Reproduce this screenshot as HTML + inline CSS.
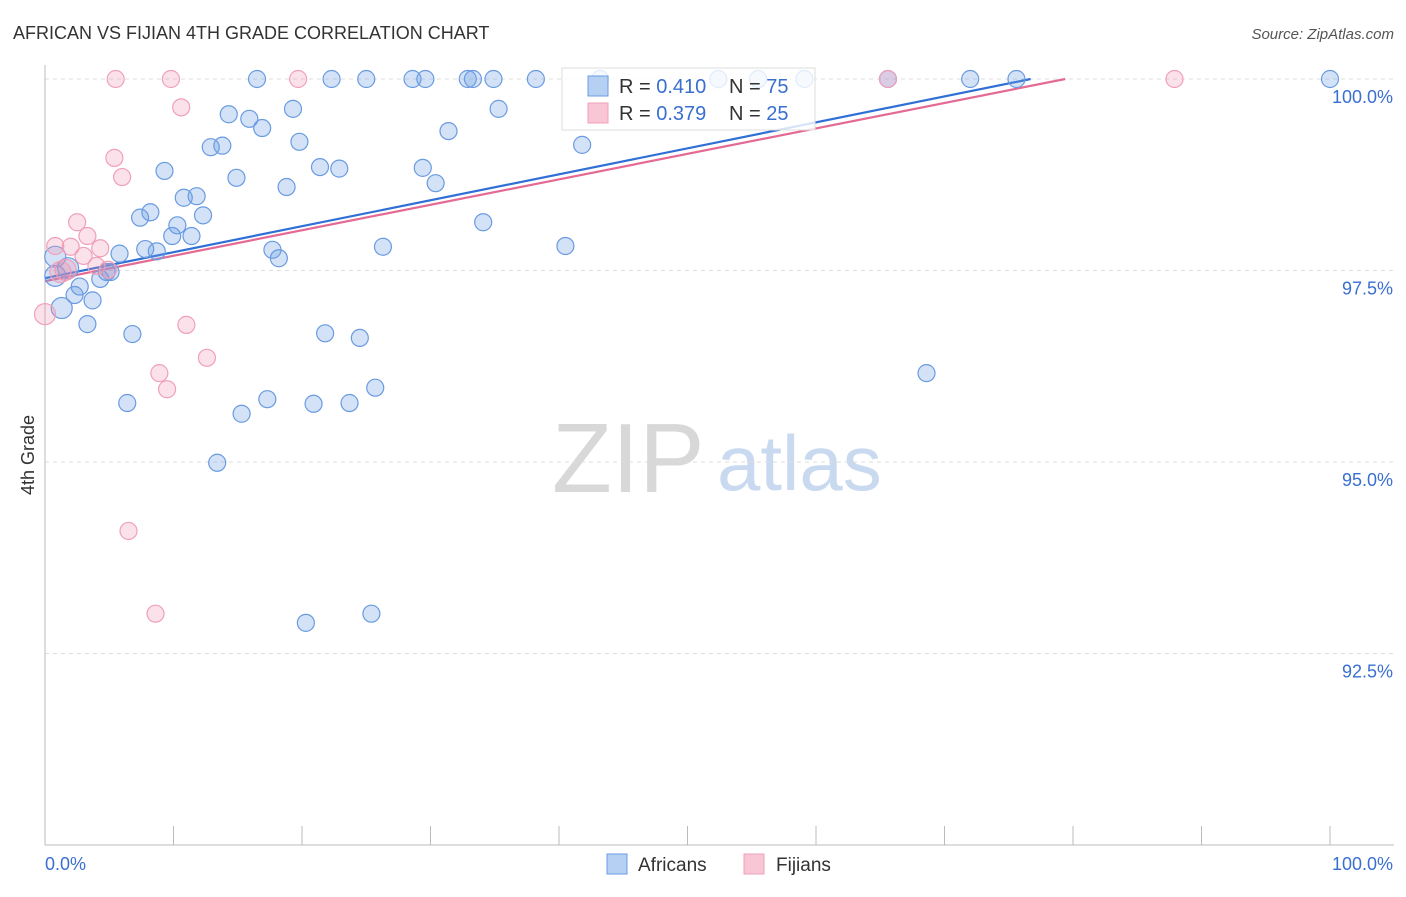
<!DOCTYPE html>
<html><head><meta charset="utf-8"><style>
body{margin:0;background:#fff;font-family:"Liberation Sans",sans-serif;}
svg text{font-family:"Liberation Sans",sans-serif;}
</style></head><body>
<svg id="chart" width="1406" height="892">
<text x="13" y="39" font-size="18" fill="#333">AFRICAN VS FIJIAN 4TH GRADE CORRELATION CHART</text>
<text x="1394" y="39" font-size="15" fill="#555" text-anchor="end" font-style="italic">Source: ZipAtlas.com</text>
<g>
<text x="552" y="492" font-size="98" fill="#d8d8d8" font-family="Liberation Serif,serif">ZIP</text>
<text x="717" y="490" font-size="78" fill="#c9daf0">atlas</text>
</g>
<g id="grid"></g>
<g id="axes"></g>
<g id="lines"></g>
<g id="pts"></g>
<g>
<rect x="562" y="68" width="253" height="62" fill="#fff" fill-opacity="0.8" stroke="#ddd"/>
<rect x="588" y="76" width="20" height="20" fill="#b5d0f3" stroke="#6a9be0"/>
<rect x="588" y="103" width="20" height="20" fill="#f8c6d4" stroke="#f0a0b8"/>
<text x="619" y="93" font-size="20" fill="#333">R = <tspan fill="#3a6fd0">0.410</tspan></text>
<text x="729" y="93" font-size="20" fill="#333">N = <tspan fill="#3a6fd0">75</tspan></text>
<text x="619" y="120" font-size="20" fill="#333">R = <tspan fill="#3a6fd0">0.379</tspan></text>
<text x="729" y="120" font-size="20" fill="#333">N = <tspan fill="#3a6fd0">25</tspan></text>
</g>
<g>
<rect x="607" y="854" width="20" height="20" fill="#b5d0f3" stroke="#6a9be0"/>
<text x="638" y="871" font-size="19" fill="#333">Africans</text>
<rect x="744" y="854" width="20" height="20" fill="#f8c6d4" stroke="#f0a0b8"/>
<text x="776" y="871" font-size="19" fill="#333">Fijians</text>
</g>
<text transform="translate(34,455) rotate(-90)" font-size="18" fill="#333" text-anchor="middle">4th Grade</text>
</svg>
<script>
const blueX=[16.5,22.3,25.0,28.6,29.6,32.9,33.3,34.9,38.2,43.2,52.4,55.5,59.1,65.6,72.0,75.6,100,14.3,15.9,16.9,19.3,35.3,31.4,12.9,13.8,19.8,41.8,9.3,14.9,18.8,21.4,22.9,29.4,30.4,10.8,11.8,8.2,7.4,12.3,10.3,9.9,11.4,34.1,5.8,7.8,8.7,17.7,18.2,26.3,40.5,0.8,1.8,5.1,4.3,4.8,0.8,2.7,2.3,3.7,1.3,3.3,6.8,21.8,24.5,68.6,25.7,6.4,17.3,15.3,20.9,23.7,13.4,20.3,25.4];
const blueY=[100,100,100,100,100,100,100,100,100,100,100,100,100,100,100,100,100,99.54,99.48,99.36,99.61,99.61,99.32,99.11,99.13,99.18,99.14,98.80,98.71,98.59,98.85,98.83,98.84,98.64,98.45,98.47,98.26,98.19,98.22,98.09,97.95,97.95,98.13,97.72,97.78,97.75,97.77,97.66,97.81,97.82,97.68,97.53,97.48,97.39,97.48,97.43,97.29,97.18,97.11,97.01,96.80,96.67,96.68,96.62,96.16,95.97,95.77,95.82,95.63,95.76,95.77,94.99,92.90,93.02];
const pinkX=[5.5,9.8,19.7,65.6,87.9,10.6,5.4,6.0,2.5,3.3,0.8,2.0,4.3,3.0,4.0,1.6,4.9,0,11.0,12.6,8.9,9.5,6.5,8.6,1.2];
const pinkY=[100,100,100,100,100,99.63,98.97,98.72,98.13,97.95,97.82,97.81,97.79,97.69,97.56,97.51,97.51,96.93,96.79,96.36,96.16,95.95,94.10,93.02,97.48];
const blueTrend=[97.40,100,76.7];
const pinkTrend=[97.36,100,79.4];
const yTicks=[100,97.5,95,92.5];
const xTicks=[0,10,20,30,40,50,60,70,80,90,100];
const X=v=>45+v*12.85, Y=v=>79+(100-v)*76.6;
const NS='http://www.w3.org/2000/svg';
function mk(p,t,a){const e=document.createElementNS(NS,t);for(const k in a)e.setAttribute(k,a[k]);document.getElementById(p).appendChild(e);return e;}
yTicks.forEach(t=>{
 const l=mk('grid','line',{x1:45,x2:1394,y1:Y(t),y2:Y(t),stroke:'#ddd','stroke-dasharray':'4,4'});
 
 
 const tx=mk('grid','text',{x:1393,y:Y(t)+24,'font-size':18,fill:'#3a6fd0','text-anchor':'end'});
 tx.textContent=t.toFixed(1)+'%';
 
 
});
mk('axes','line',{x1:45,x2:45,y1:65,y2:845,stroke:'#bbb'});
mk('axes','line',{x1:45,x2:1394,y1:845,y2:845,stroke:'#bbb'});
xTicks.forEach(t=>{const l=mk('axes','line',{x1:X(t),x2:X(t),y1:826,y2:845,stroke:'#bbb'});
 
 });
const xl=mk('axes','text',{x:45,y:870,'font-size':18,fill:'#3a6fd0'});xl.textContent='0.0%';


const xr=mk('axes','text',{x:1393,y:870,'font-size':18,fill:'#3a6fd0','text-anchor':'end'});xr.textContent='100.0%';


function pts(xs,ys,fill,stroke,name){xs.forEach((x,i)=>{const big=x<2&&ys[i]>96.9&&ys[i]<97.8;
 const c=mk('pts','circle',{cx:X(x),cy:Y(ys[i]),r:big?10.5:8.5,fill:fill,stroke:stroke,'stroke-width':1.2});
 
 });}
pts(blueX,blueY,'rgba(110,160,230,0.3)','#6a9be0','african-point');
pts(pinkX,pinkY,'rgba(240,140,170,0.25)','#f0a0b8','fijian-point');
const bl=mk('lines','line',{x1:X(0),y1:Y(blueTrend[0]),x2:X(blueTrend[2]),y2:Y(blueTrend[1]),stroke:'#2f6fd6','stroke-width':2.2});


const pl=mk('lines','line',{x1:X(0),y1:Y(pinkTrend[0]),x2:X(pinkTrend[2]),y2:Y(pinkTrend[1]),stroke:'#e46a93','stroke-width':2.2});


</script>
</body></html>
